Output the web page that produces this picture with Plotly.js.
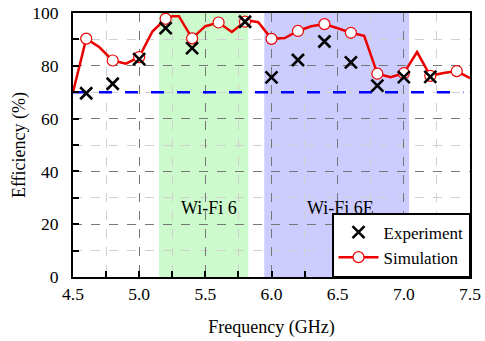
<!DOCTYPE html>
<html><head><meta charset="utf-8">
<script src="https://cdn.plot.ly/plotly-3.0.1.min.js"></script>
<style>html,body{margin:0;padding:0;background:#fff}#c{width:485px;height:341px}</style>
</head><body><div id="c"></div>
<script>
// Simulation curve (fine)
const simLineX = [4.5, 4.6, 4.7, 4.8, 4.9, 5.0, 5.1, 5.2, 5.25, 5.3, 5.4, 5.5, 5.6, 5.7, 5.8, 5.85, 5.9, 6.0, 6.1, 6.2, 6.3, 6.4, 6.5, 6.6, 6.7, 6.8, 6.9, 7.0, 7.1, 7.2, 7.3, 7.4, 7.5];
const simLineY = [70, 90.3, 87, 82, 80.8, 83.3, 93, 97.8, 98.8, 98.8, 90.4, 95, 96.4, 92.8, 96.7, 97, 96.5, 90.2, 90.5, 93.2, 95, 95.8, 94.2, 92.5, 91.4, 77, 75.7, 77.2, 85.2, 76.2, 77.3, 78, 75.3];
// Simulation markers
const simMarkX = [4.6, 4.8, 5.0, 5.2, 5.4, 5.6, 5.8, 6.0, 6.2, 6.4, 6.6, 6.8, 7.0, 7.2, 7.4];
const simMarkY = [90.3, 82, 83.3, 97.8, 90.4, 96.4, 96.7, 90.2, 93.2, 95.8, 92.5, 77, 77.2, 76.2, 78];
// Experiment
const expX = [4.6, 4.8, 5.0, 5.2, 5.4, 5.8, 6.0, 6.2, 6.4, 6.6, 6.8, 7.0, 7.2];
const expY = [69.6, 73.2, 82.5, 94.3, 86.7, 96.7, 75.6, 82.2, 89.2, 81.3, 72.5, 75.7, 75.8];
// Reference level
const refX = [4.5, 7.45];
const refY = [70, 70];
// Bands
const bandNames = ["Wi-Fi 6", "Wi-Fi 6E"];
const bandStart = [5.15, 5.945];
const bandEnd = [5.825, 7.04];
const bandLabelX = [5.53, 6.52];
const bandLabelY = [26, 26];
const bandColors = ["rgb(204,250,204)", "rgb(204,204,255)"];
const xTicks = [4.5, 5.0, 5.5, 6.0, 6.5, 7.0, 7.5];
const xTickText = ["4.5", "5.0", "5.5", "6.0", "6.5", "7.0", "7.5"];

const FAM = "Liberation Serif";
const baseFont = {family: FAM, color: "#000", size: 18};
const red = "rgb(235,0,0)";

const traces = [
  {x: refX, y: refY, mode: "lines", showlegend: false, hoverinfo: "skip",
   line: {color: "rgb(0,0,255)", width: 2.5, dash: "13px,13px"}},
  {x: simLineX, y: simLineY, mode: "lines", showlegend: false,
   line: {color: red, width: 2.5}},
  {x: simMarkX, y: simMarkY, mode: "markers", showlegend: false,
   marker: {symbol: "circle", size: 11, color: "#fff", line: {color: red, width: 1.2}}},
  {x: [null], y: [null], mode: "lines+markers", name: "Simulation", legendrank: 2,
   line: {color: red, width: 2.5},
   marker: {symbol: "circle", size: 11, color: "#fff", line: {color: red, width: 1.2}}},
  {x: expX, y: expY, mode: "markers", name: "Experiment", legendrank: 1,
   marker: {symbol: "x-thin-open", size: 12, color: "#000", line: {color: "#0a0a1a", width: 2.6}}}
];

const shapes = bandStart.map((s, i) => ({
  type: "rect", xref: "x", yref: "y", x0: s, x1: bandEnd[i], y0: 0, y1: 100,
  fillcolor: bandColors[i], line: {width: 0}, layer: "below"
}));
const annotations = bandNames.map((n, i) => ({
  x: bandLabelX[i], y: bandLabelY[i], xref: "x", yref: "y", text: n, showarrow: false,
  font: {family: FAM, size: 18, color: "#000"}
}));

const layout = {
  width: 485, height: 341,
  margin: {l: 73, r: 15, t: 13, b: 64},
  paper_bgcolor: "#fff", plot_bgcolor: "#fff",
  font: baseFont,
  showlegend: true,
  legend: {x: 1, y: 0, xanchor: "right", yanchor: "bottom", bgcolor: "#fff",
    bordercolor: "#000", borderwidth: 1.5, font: {family: FAM, size: 17, color: "#000"},
    tracegroupgap: 0, itemwidth: 40},
  xaxis: {range: [4.5, 7.5], tickvals: xTicks, ticktext: xTickText,
    showline: true, linecolor: "#000", linewidth: 2, mirror: true,
    ticks: "inside", ticklen: 6, tickwidth: 2, tickcolor: "#000",
    showgrid: true, gridcolor: "#777", griddash: "dash", gridwidth: 1,
    zeroline: false, tickfont: {family: FAM, size: 17.5, color: "#000"},
    title: {text: "Frequency (GHz)", font: {family: FAM, size: 18, color: "#000"}, standoff: 17},
    minor: {dtick: 0.25, tick0: 4.5, showgrid: true, gridcolor: "#d0d0d0", griddash: "dash", gridwidth: 1,
      ticks: "inside", ticklen: 6, tickwidth: 2, tickcolor: "#000"}},
  yaxis: {range: [0, 100], dtick: 20, tick0: 0,
    showline: true, linecolor: "#000", linewidth: 2, mirror: true,
    ticks: "inside", ticklen: 6, tickwidth: 2, tickcolor: "#000", ticklabelstandoff: 9,
    showgrid: true, gridcolor: "#777", griddash: "dash", gridwidth: 1,
    zeroline: false, tickfont: {family: FAM, size: 17.5, color: "#000"},
    title: {text: "Efficiency (%)", font: {family: FAM, size: 18, color: "#000"}, standoff: 2},
    minor: {dtick: 10, showgrid: true, gridcolor: "#d0d0d0", griddash: "dash", gridwidth: 1,
      ticks: "inside", ticklen: 6, tickwidth: 2, tickcolor: "#000"}},
  shapes: shapes,
  annotations: annotations
};

Plotly.newPlot("c", traces, layout, {displayModeBar: false, staticPlot: true});
</script></body></html>
